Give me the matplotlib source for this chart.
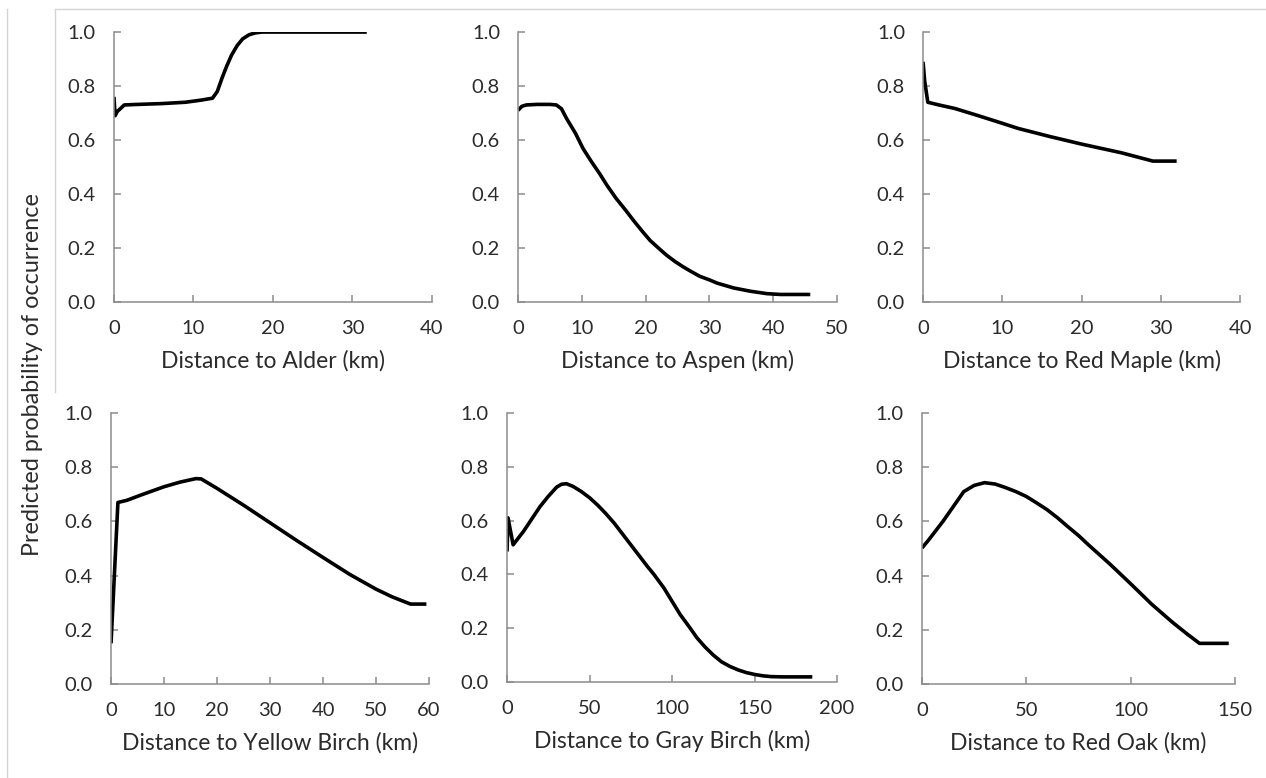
import matplotlib
matplotlib.use("Agg")
import matplotlib.pyplot as plt
from matplotlib.lines import Line2D

plt.rcParams['font.family'] = ['Lato', 'DejaVu Sans']

# Curve data (distance km, predicted probability)
alder_x = [0, 0.15, 0.4, 1.3, 3, 6, 9, 11, 12.4, 13, 13.6, 14.2, 14.8, 15.5, 16.2, 17, 17.8, 18.6, 20, 25, 31.8]
alder_y = [0.76, 0.69, 0.705, 0.73, 0.732, 0.735, 0.74, 0.748, 0.755, 0.78, 0.83, 0.875, 0.915, 0.95, 0.975, 0.99, 0.997, 1.0, 1.0, 1.0, 1.0]

aspen_x = [0, 0.6, 1.3, 3, 5, 6, 6.8, 7.6, 9, 10.2, 11.5, 12.8, 14, 15.4, 16.8, 18.1, 19.4, 20.7, 22,
           23.3, 24.6, 25.9, 27.2, 28.5, 30, 31.2, 33.8, 36.4, 39, 41.1, 45.8]
aspen_y = [0.71, 0.725, 0.73, 0.732, 0.732, 0.73, 0.716, 0.68, 0.625, 0.568, 0.52, 0.475, 0.43, 0.383, 0.342,
           0.302, 0.264, 0.228, 0.20, 0.173, 0.15, 0.13, 0.112, 0.095, 0.082, 0.07, 0.052, 0.04, 0.031, 0.028, 0.028]

maple_x = [0, 0.2, 0.6, 2, 4, 7, 10, 12, 16, 20, 25, 29, 32]
maple_y = [0.89, 0.82, 0.74, 0.73, 0.717, 0.69, 0.662, 0.643, 0.613, 0.585, 0.553, 0.522, 0.522]

yellow_x = [0, 1.3, 3, 6, 10, 13, 16, 17, 20, 25, 30, 35, 40, 45, 50, 53, 56.5, 59.5]
yellow_y = [0.15, 0.67, 0.678, 0.70, 0.728, 0.745, 0.758, 0.757, 0.722, 0.66, 0.595, 0.53, 0.467, 0.405, 0.35, 0.322, 0.295, 0.295]

gray_x = [0, 0.6, 3.7, 10, 20, 25, 30, 33, 36, 40, 45, 50, 55, 60, 65, 70, 75, 80, 85, 89, 95, 100,
          105, 111, 115, 120, 125, 130, 135, 140, 145, 150, 155, 160, 167, 185]
gray_y = [0.485, 0.61, 0.51, 0.56, 0.652, 0.69, 0.724, 0.735, 0.737, 0.727, 0.708, 0.685, 0.657, 0.625,
          0.59, 0.55, 0.51, 0.47, 0.43, 0.40, 0.35, 0.30, 0.25, 0.20, 0.165, 0.13, 0.10, 0.075, 0.058,
          0.045, 0.035, 0.028, 0.023, 0.02, 0.019, 0.019]

oak_x = [0, 3, 10, 20, 25, 30, 35, 40, 45, 50, 55, 60, 65, 70, 75, 80, 90, 100, 110, 120, 127, 133, 147]
oak_y = [0.502, 0.53, 0.60, 0.71, 0.733, 0.743, 0.738, 0.725, 0.71, 0.692, 0.668, 0.643, 0.613, 0.58,
         0.548, 0.512, 0.443, 0.37, 0.295, 0.228, 0.185, 0.15, 0.15]

labels = ['Distance to Alder (km)', 'Distance to Aspen (km)', 'Distance to Red Maple (km)',
          'Distance to Yellow Birch (km)', 'Distance to Gray Birch (km)', 'Distance to Red Oak (km)']
xmaxes = [40, 50, 40, 60, 200, 150]
xsteps = [10, 10, 10, 10, 50, 50]
yticks = [0.0, 0.2, 0.4, 0.6, 0.8, 1.0]

series = [(alder_x, alder_y), (aspen_x, aspen_y), (maple_x, maple_y),
          (yellow_x, yellow_y), (gray_x, gray_y), (oak_x, oak_y)]

# axes rectangles in figure fractions (left, bottom, width, height)
rects = [(0.0900, 0.6118, 0.2512, 0.3470),
         (0.4092, 0.6118, 0.2520, 0.3470),
         (0.7291, 0.6118, 0.2504, 0.3470),
         (0.0877, 0.1208, 0.2512, 0.3483),
         (0.4005, 0.1234, 0.2607, 0.3458),
         (0.7283, 0.1208, 0.2472, 0.3483)]

fig = plt.figure(figsize=(12.66, 7.78), dpi=100)
spine_col = '#8c8c8c'
text_col = '#2b2b2b'

for (xs, ys), rect, lab, xm, st in zip(series, rects, labels, xmaxes, xsteps):
    ax = fig.add_axes(rect)
    ax.plot(xs, ys, color='black', lw=2.6, solid_capstyle='butt', solid_joinstyle='round')
    ax.set_xlim(0, xm)
    ax.set_ylim(0, 1.0)
    ax.set_xticks(list(range(0, xm + 1, st)))
    ax.set_yticks(yticks)
    ax.set_yticklabels([f'{v:.1f}' for v in yticks])
    for s in ['top', 'right']:
        ax.spines[s].set_visible(False)
    for s in ['left', 'bottom']:
        ax.spines[s].set_color(spine_col)
        ax.spines[s].set_linewidth(1.1)
    ax.tick_params(direction='in', length=5, width=1.1, color=spine_col,
                   labelsize=14.5, labelcolor=text_col, pad=13)
    ax.set_xlabel(lab, fontsize=16.5, color=text_col, labelpad=9)

fig.text(0.026, 0.519, 'Predicted probability of occurrence', rotation=90,
         fontsize=16.8, color=text_col, ha='center', va='center')

# faint frame lines visible around the panels
frame_col = '#d4d4d4'
fig.add_artist(Line2D([55 / 1266, 1.0], [1 - 9 / 778, 1 - 9 / 778], color=frame_col, lw=1))
fig.add_artist(Line2D([55 / 1266, 55 / 1266], [1 - 9 / 778, 1 - 392 / 778], color=frame_col, lw=1))
fig.add_artist(Line2D([7 / 1266, 7 / 1266], [1 - 9 / 778, 1 - 777 / 778], color=frame_col, lw=1))

fig.savefig('out.png', dpi=100, facecolor='white')
